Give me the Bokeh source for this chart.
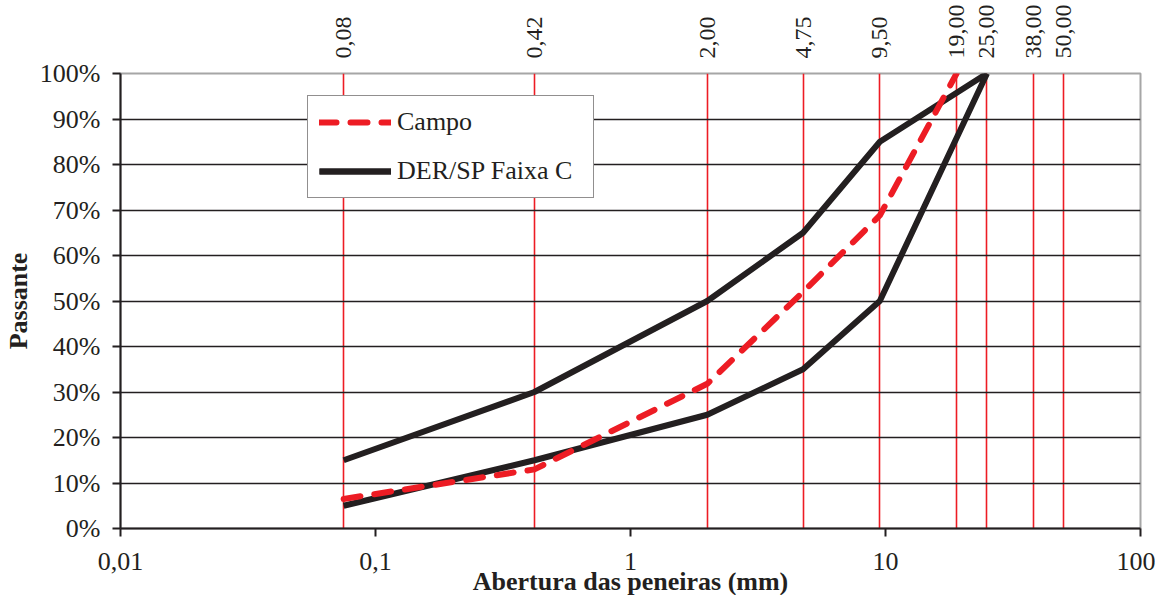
from bokeh.plotting import figure
from bokeh.models import Range1d, FixedTicker, Legend, LegendItem, LogAxis, PrintfTickFormatter
from bokeh.embed import file_html
from bokeh.resources import INLINE

# ---- data ----
sieve_sizes = [0.075, 0.42, 2.0, 4.75, 9.5, 19.0, 25.0, 38.0, 50.0]
sieve_labels = ["0,08", "0,42", "2,00", "4,75", "9,50", "19,00", "25,00", "38,00", "50,00"]

campo_x = [0.075, 0.42, 2.0, 4.75, 9.5, 19.0]
campo_y = [6.5, 13.0, 31.8, 52.0, 68.8, 100.0]

faixa_x = [0.075, 0.42, 2.0, 4.75, 9.5, 25.0]
faixa_sup = [15, 30, 50, 65, 85, 100]
faixa_inf = [5, 15, 25, 35, 50, 100]

x_ticks = [0.01, 0.1, 1, 10, 100]
x_tick_labels = ["0,01", "0,1", "1", "10", "100"]
y_ticks = [0, 10, 20, 30, 40, 50, 60, 70, 80, 90, 100]

BLACK = "#231f20"
RED = "#ed1c24"
FONT = "Liberation Serif"

p = figure(width=1155, height=598, x_axis_type="log",
           x_range=Range1d(0.01, 100), y_range=Range1d(0, 100),
           output_backend="svg", toolbar_location=None,
           min_border_left=119, min_border_right=15,
           min_border_top=73, min_border_bottom=64)

p.outline_line_color = "#a6a6a6"
p.outline_line_width = 2

# grids
p.ygrid.ticker = FixedTicker(ticks=y_ticks)
p.ygrid.grid_line_color = BLACK
p.ygrid.grid_line_width = 1.6
p.xgrid.ticker = FixedTicker(ticks=sieve_sizes)
p.xgrid.grid_line_color = RED
p.xgrid.grid_line_width = 1.6

# axes
p.xaxis.ticker = FixedTicker(ticks=x_ticks)
p.xaxis.major_label_overrides = dict(zip(x_ticks, x_tick_labels))
p.yaxis.ticker = FixedTicker(ticks=y_ticks)
p.yaxis.formatter = PrintfTickFormatter(format="%d%%")
for ax in (p.xaxis, p.yaxis):
    ax.axis_line_color = BLACK
    ax.axis_line_width = 2
    ax.major_tick_line_color = BLACK
    ax.major_tick_line_width = 2
    ax.major_tick_out = 8
    ax.major_tick_in = 0
    ax.minor_tick_line_color = None
    ax.major_label_text_font = FONT
    ax.major_label_text_font_size = "26px"
    ax.major_label_text_color = BLACK
    ax.axis_label_text_font = FONT
    ax.axis_label_text_font_size = "26px"
    ax.axis_label_text_font_style = "bold"
    ax.axis_label_text_color = BLACK
p.xaxis.major_label_standoff = 16
p.yaxis.major_label_standoff = 12
p.xaxis.axis_label = "Abertura das peneiras (mm)"
p.yaxis.axis_label = "Passante"
p.xaxis.axis_label_standoff = -6
p.yaxis.axis_label_standoff = 4

# top axis with sieve openings
top = LogAxis(ticker=FixedTicker(ticks=sieve_sizes),
              major_label_overrides=dict(zip(sieve_sizes, sieve_labels)),
              major_label_orientation="vertical",
              axis_line_color=None, major_tick_line_color=None,
              minor_tick_line_color=None,
              major_label_standoff=9,
              major_label_text_font=FONT, major_label_text_font_size="24px",
              major_label_text_color=BLACK)
p.add_layout(top, "above")

# lines
r_sup = p.line(faixa_x, faixa_sup, line_color=BLACK, line_width=6, line_join="round")
r_inf = p.line(faixa_x, faixa_inf, line_color=BLACK, line_width=6, line_join="round")
r_campo = p.line(campo_x, campo_y, line_color=RED, line_width=6,
                 line_dash="17 14", line_cap="round", line_join="round")

legend = Legend(items=[LegendItem(label="Campo", renderers=[r_campo]),
                       LegendItem(label="DER/SP Faixa C", renderers=[r_sup, r_inf])],
                location=(187, 330))
legend.border_line_color = BLACK
legend.border_line_width = 1.5
legend.background_fill_color = "white"
legend.background_fill_alpha = 1
legend.label_text_font = FONT
legend.label_text_font_size = "26px"
legend.label_text_color = BLACK
legend.glyph_width = 72
legend.glyph_height = 30
legend.label_height = 30
legend.label_width = 185
legend.label_standoff = 6
legend.spacing = 19
legend.padding = 11
legend.margin = 0
p.add_layout(legend)

open("out.html", "w").write(file_html(p, INLINE))
